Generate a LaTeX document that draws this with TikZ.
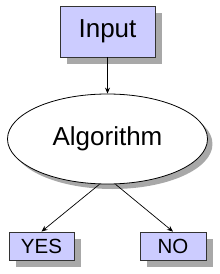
\documentclass[tikz,border=0pt]{standalone}
\usepackage{fontspec}
\setmainfont{Liberation Sans}
\usetikzlibrary{shadows,arrows.meta,shapes.geometric}
\definecolor{boxfill}{HTML}{CCCCFF}
\definecolor{shadowgray}{HTML}{A8A8A8}
\tikzset{
  boxnode/.style={draw=black!80, line width=0.8pt, fill=boxfill, inner sep=0pt,
    drop shadow={shadow xshift=7pt, shadow yshift=-7pt, fill=shadowgray, opacity=1}},
  ellnode/.style={draw=black, line width=0.8pt, fill=white, ellipse, inner sep=0pt,
    drop shadow={shadow xshift=5pt, shadow yshift=-5pt, fill=shadowgray, opacity=1}},
  conn/.style={line width=0.7pt, -{Stealth[length=6pt,width=5pt]}}
}
\begin{document}
\begin{tikzpicture}[x=1pt,y=1pt]
\useasboundingbox (0,0) rectangle (220,274);
\node[boxnode, minimum width=95pt, minimum height=51pt, font=\fontsize{26}{30}\selectfont] (in) at (107.5,242.5) {Input};
\node[ellnode, minimum width=200pt, minimum height=90pt, font=\fontsize{26}{30}\selectfont] (alg) at (107.5,135) {Algorithm};
\node[boxnode, minimum width=65pt, minimum height=28pt, font=\fontsize{20.5}{24}\selectfont] (yes) at (41.5,28) {YES};
\node[boxnode, minimum width=66pt, minimum height=28pt, font=\fontsize{20.5}{24}\selectfont] (no) at (173,28) {NO};
\draw[conn] (in.south) -- (alg.north);
\draw[conn] (alg.260) -- (yes.north);
\draw[conn] (alg.280) -- (no.north);
\end{tikzpicture}
\end{document}
